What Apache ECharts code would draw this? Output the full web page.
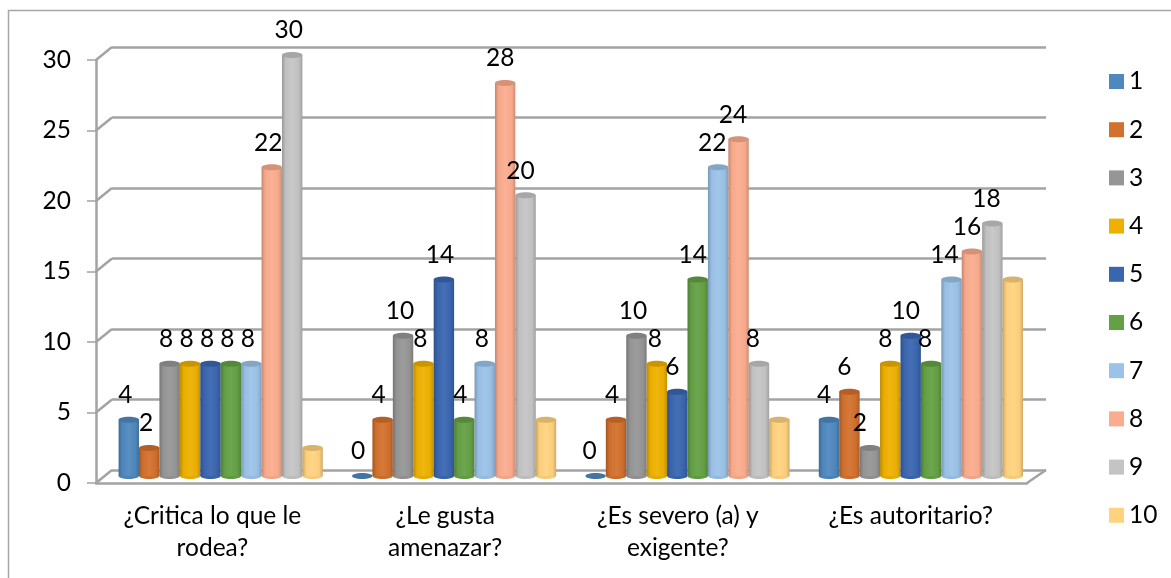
<!DOCTYPE html>
<html>
<head>
<meta charset="utf-8">
<style>html,body{margin:0;padding:0;background:#fff}#chart{width:1171px;height:578px}</style>
<script src="https://cdn.jsdelivr.net/npm/echarts@6/dist/echarts.min.js"></script>
</head>
<body>
<div id="chart"></div>
<script>
// Survey answers by question, one series per response code.
const categories = ['¿Critica lo que le\nrodea?', '¿Le gusta\namenazar?', '¿Es severo (a) y\nexigente?', '¿Es autoritario?'];
const s1 = [4, 0, 0, 4];
const s2 = [2, 4, 4, 6];
const s3 = [8, 10, 10, 2];
const s4 = [8, 8, 8, 8];
const s5 = [8, 14, 6, 10];
const s6 = [8, 4, 14, 8];
const s7 = [8, 8, 22, 14];
const s8 = [22, 28, 24, 16];
const s9 = [30, 20, 8, 18];
const s10 = [2, 4, 4, 14];
const seriesValues = [s1, s2, s3, s4, s5, s6, s7, s8, s9, s10];
const seriesNames = ['1', '2', '3', '4', '5', '6', '7', '8', '9', '10'];
const yTicks = [0, 5, 10, 15, 20, 25, 30];

const colors = ['#4F88BE', '#D2702D', '#969696', '#EEB100', '#3A66B0', '#64A044', '#9BC2E8', '#FBAC8E', '#C4C4C4', '#FFD27F'];
// Horizontal shift of each value label from its cylinder's centre, per question.
const labelNudge = [
  [-3.5, -3, -3.5, -3.5, -3.5, -3.5, -3.5, -3.5, -3.5],
  [-4, -4, -3, -3, -4, -4, -3, -5, -5],
  [-6, -4, -3.5, -2, -5, -5, -6, -5.5, -6],
  [-5, -5, -10, -5, -5, -6, -7, -5, -6]
];
const FONT = 'Lato';
const FONT_SIZE = 24.5;
const AXIS = '#A3A3A3';

function shade(hex, k) {
  const n = parseInt(hex.slice(1), 16);
  const c = [n >> 16, (n >> 8) & 255, n & 255].map(v => Math.min(255, Math.round(k <= 1 ? v * k : v + (255 - v) * (k - 1))));
  return 'rgb(' + c.join(',') + ')';
}

// Cylinder body with side shading, plus end caps and the value above it.
function cylinder(seriesIndex) {
  const base = colors[seriesIndex];
  const body = {
    type: 'linear', x: 0, y: 0, x2: 1, y2: 0,
    colorStops: [
      { offset: 0, color: shade(base, 0.78) },
      { offset: 0.18, color: shade(base, 0.98) },
      { offset: 0.5, color: shade(base, 1.06) },
      { offset: 0.82, color: shade(base, 0.98) },
      { offset: 1, color: shade(base, 0.82) }
    ]
  };
  return function (params, api) {
    const cat = api.value(0);
    const val = api.value(1);
    const band = api.size([1, 0])[0];
    const w = band * 0.0875;
    const ry = 3;
    const bottom = api.coord([cat, 0]);
    const top = api.coord([cat, val]);
    const cx = bottom[0] + (seriesIndex - 4.5) * w;
    const children = [];
    if (val > 0) {
      children.push({ type: 'ellipse', shape: { cx: cx, cy: bottom[1], rx: w / 2, ry: ry }, style: { fill: shade(base, 0.96) } });
      children.push({ type: 'rect', shape: { x: cx - w / 2, y: top[1], width: w, height: bottom[1] - top[1] }, style: { fill: body } });
    }
    children.push({ type: 'ellipse', shape: { cx: cx, cy: top[1], rx: w / 2, ry: ry }, style: { fill: shade(base, 0.85) } });
    if (seriesIndex < 9) {
      children.push({
        type: 'text',
        style: {
          text: String(val), x: cx + labelNudge[cat][seriesIndex], y: top[1] - 24.5,
          align: 'center', verticalAlign: 'middle', font: FONT_SIZE + 'px ' + FONT, fill: '#000'
        }
      });
    }
    return { type: 'group', children: children };
  };
}

// Oblique strokes joining the front axis to the back wall.
function wallEdges(params, api) {
  const cs = params.coordSys;
  const y = api.coord([0, api.value(0)])[1];
  const lineStyle = { stroke: AXIS, lineWidth: 2.5, fill: null };
  const children = [{ type: 'line', shape: { x1: cs.x, y1: y, x2: cs.x + 16, y2: y - 13 }, style: lineStyle }];
  if (api.value(0) === 0) {
    children.push({ type: 'line', shape: { x1: cs.x + cs.width, y1: y, x2: cs.x + cs.width + 19, y2: y - 13 }, style: lineStyle });
  }
  return { type: 'group', children: children };
}

const chart = echarts.init(document.getElementById('chart'));
chart.setOption({
  animation: false,
  backgroundColor: '#fff',
  textStyle: { fontFamily: FONT },
  graphic: [{
    type: 'polyline', silent: true,
    shape: { points: [[8.5, 578], [8.5, 10.5], [1171, 10.5]] },
    style: { stroke: '#A6A6A6', lineWidth: 1.5, fill: null }
  }],
  legend: {
    data: seriesNames, orient: 'vertical', left: 1109, top: 69, padding: 0,
    itemWidth: 15, itemHeight: 15, itemGap: 23.2, icon: 'rect',
    selectedMode: false,
    textStyle: { fontFamily: FONT, fontSize: FONT_SIZE, color: '#000' }
  },
  grid: [
    { left: 96, top: 60, width: 931, height: 423 },
    { left: 112, top: 47, width: 934, height: 423 },
    { left: 104, top: 55, width: 933.6, height: 421 }
  ],
  xAxis: [
    {
      gridIndex: 0, type: 'category', data: categories,
      axisLine: { lineStyle: { color: AXIS, width: 2.5 } },
      axisTick: { length: 8, lineStyle: { color: AXIS, width: 1.5 } },
      axisLabel: { fontFamily: FONT, fontSize: FONT_SIZE, color: '#000', lineHeight: 32, margin: 17 }
    },
    { gridIndex: 1, type: 'category', data: categories, show: false },
    { gridIndex: 2, type: 'category', data: categories, show: false }
  ],
  yAxis: [
    {
      gridIndex: 0, type: 'value', min: 0, max: 30, interval: 5,
      axisLine: { show: true, lineStyle: { color: AXIS, width: 2.5 } },
      axisTick: { show: true, length: 9, lineStyle: { color: AXIS, width: 1.5 } },
      axisLabel: { fontFamily: FONT, fontSize: FONT_SIZE, color: '#000', margin: 25 },
      splitLine: { show: false }
    },
    {
      gridIndex: 1, type: 'value', min: 0, max: 30, interval: 5,
      axisLine: { show: false }, axisTick: { show: false }, axisLabel: { show: false },
      splitLine: { show: true, lineStyle: { color: AXIS, width: 2.5 } }
    },
    { gridIndex: 2, type: 'value', min: 0, max: 30, interval: 5, show: false, splitLine: { show: false } }
  ],
  series: [{
    type: 'custom', silent: true, xAxisIndex: 0, yAxisIndex: 0, z: 1,
    renderItem: wallEdges, data: yTicks.map(v => [v]), encode: { y: 0 }
  }].concat(seriesValues.map((vals, i) => ({
    name: seriesNames[i], type: 'custom', xAxisIndex: 2, yAxisIndex: 2, z: 3 + i,
    itemStyle: { color: colors[i] },
    renderItem: cylinder(i),
    encode: { x: 0, y: 1 },
    data: vals.map((v, c) => [c, v])
  })))
});
</script>
</body>
</html>
